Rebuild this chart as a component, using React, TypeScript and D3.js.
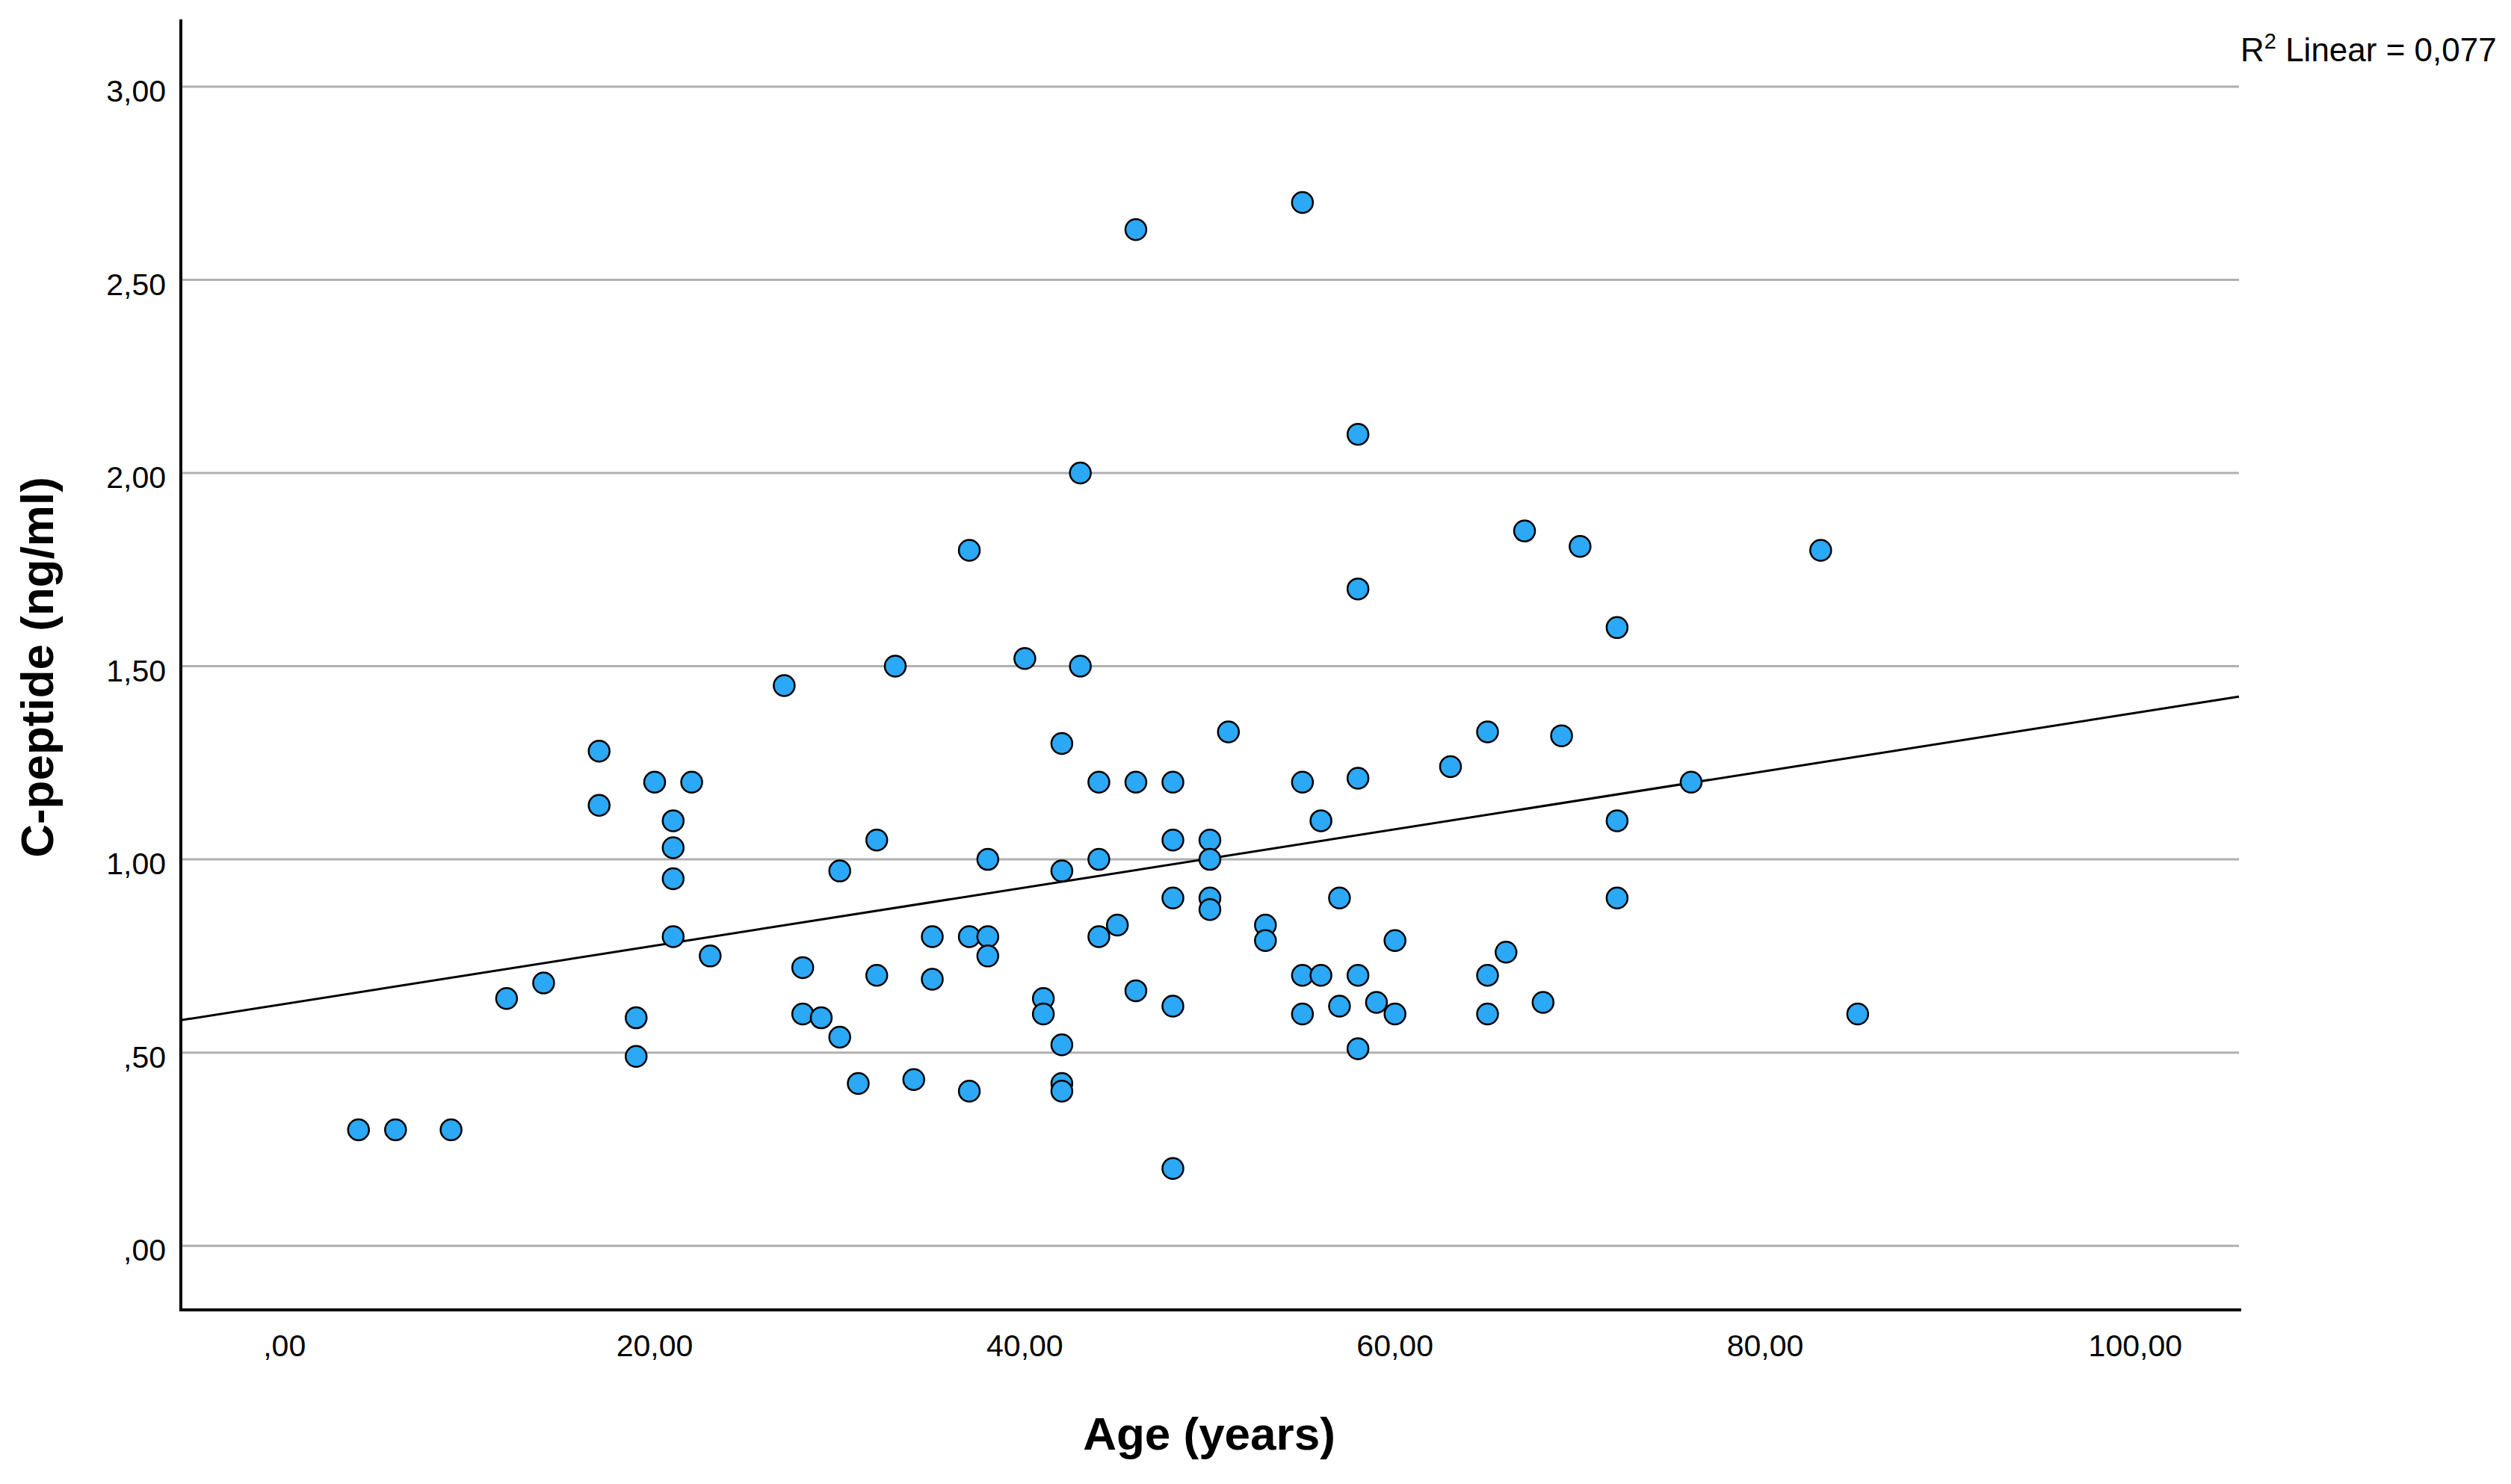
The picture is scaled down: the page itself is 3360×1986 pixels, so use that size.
import * as d3 from 'd3';

// age (years) and C-peptide (ng/ml), one entry per patient
const ages: number[] = [
  4, 6, 9, 12, 14, 17, 17, 19, 19, 20, 22, 21, 21, 21, 21, 23, 27, 28, 28, 29,
  30, 30, 31, 32, 32, 33, 34, 35, 35, 37, 37, 37, 38, 38, 38, 40, 41, 41, 42, 42,
  42, 42, 42, 43, 43, 44, 44, 44, 45, 46, 46, 46, 48, 48, 48, 48, 48, 50, 50, 50,
  50, 51, 53, 53, 55, 55, 55, 55, 56, 56, 57, 57, 58, 58, 58, 58, 58, 59, 60, 60,
  63, 65, 65, 65, 66, 67, 68, 69, 70, 72, 72, 72, 76, 83, 85,
];
const cPeptide: number[] = [
  0.30, 0.30, 0.30, 0.64, 0.68, 1.28, 1.14, 0.59, 0.49, 1.20, 1.20, 1.10, 1.03, 0.95, 0.80, 0.75, 1.45, 0.72, 0.60, 0.59,
  0.97, 0.54, 0.42, 1.05, 0.70, 1.50, 0.43, 0.80, 0.69, 1.80, 0.80, 0.40, 1.00, 0.80, 0.75, 1.52, 0.64, 0.60, 1.30, 0.97,
  0.52, 0.42, 0.40, 2.00, 1.50, 1.20, 1.00, 0.80, 0.83, 2.63, 1.20, 0.66, 1.20, 1.05, 0.90, 0.62, 0.20, 1.05, 1.00, 0.90,
  0.87, 1.33, 0.83, 0.79, 2.70, 1.20, 0.70, 0.60, 1.10, 0.70, 0.90, 0.62, 2.10, 1.70, 1.21, 0.70, 0.51, 0.63, 0.79, 0.60,
  1.24, 1.33, 0.70, 0.60, 0.76, 1.85, 0.63, 1.32, 1.81, 1.60, 1.10, 0.90, 1.20, 1.80, 0.60,
];

const xTicks = [0, 20, 40, 60, 80, 100];
const yTicks = [0, 0.5, 1, 1.5, 2, 2.5, 3];

// fit line as printed by SPSS
const fitIntercept = 0.626;
const fitSlope = 0.00753;
const rSquared = 0.077;

const W = 3360;
const H = 1986;
const plot = { left: 242, right: 2996, top: 26, bottom: 1753 };
const FONT = '"Liberation Sans", Arial, sans-serif';
const DOT_FILL = '#2ba8f6';

// SPSS style: 2 decimals, comma decimal mark, no leading zero
const fmt = (v: number) => d3.format('.2f')(v).replace('.', ',').replace(/^0,/, ',');

export default function App() {
  const x = d3.scaleLinear().domain([-5.6, 105.6]).range([plot.left, plot.right]);
  const y = d3.scaleLinear().domain([-0.166, 3.174]).range([plot.bottom, plot.top]);

  const xDom = x.domain();
  const fit = d3.line<number>()
    .x((d) => x(d))
    .y((d) => y(fitIntercept + fitSlope * d));

  const points = ages.map((a, i) => ({ age: a, cp: cPeptide[i] }));

  return (
    <svg width={W} height={H} style={{ position: 'absolute', left: 0, top: 0, background: '#fff' }}>
      <rect x={0} y={0} width={W} height={H} fill="#fff" />

      {/* horizontal grid */}
      <g>
        {yTicks.map((t) => (
          <line key={t} x1={plot.left} x2={plot.right} y1={y(t)} y2={y(t)} stroke="#b0b0b0" strokeWidth={3} />
        ))}
      </g>

      {/* y tick labels */}
      <g fontFamily={FONT} fontSize={41} fill="#000" textAnchor="end">
        {yTicks.map((t) => (
          <text key={t} x={plot.left - 20} y={y(t) + 20}>{fmt(t)}</text>
        ))}
      </g>

      {/* x tick labels */}
      <g fontFamily={FONT} fontSize={41} fill="#000" textAnchor="middle">
        {xTicks.map((t) => (
          <text key={t} x={x(t)} y={1815}>{fmt(t)}</text>
        ))}
      </g>

      {/* fit line */}
      <path d={fit(xDom) || ''} fill="none" stroke="#000" strokeWidth={3} />

      {/* points */}
      <g>
        {points.map((p, i) => (
          <circle key={i} cx={x(p.age)} cy={y(p.cp)} r={14} fill={DOT_FILL} stroke="#000" strokeWidth={2.5} />
        ))}
      </g>

      {/* axes */}
      <line x1={plot.left} x2={plot.left} y1={plot.top} y2={plot.bottom + 2} stroke="#000" strokeWidth={4} />
      <line x1={plot.left - 2} x2={plot.right + 3} y1={plot.bottom} y2={plot.bottom} stroke="#000" strokeWidth={4} />

      {/* titles */}
      <text x={1618} y={1940} fontFamily={FONT} fontSize={62} fontWeight="bold" textAnchor="middle">Age (years)</text>
      <text
        transform={`translate(71, 893) rotate(-90)`}
        fontFamily={FONT}
        fontSize={62}
        fontWeight="bold"
        textAnchor="middle"
      >
        C-peptide (ng/ml)
      </text>

      <text x={plot.right + 2} y={82} fontFamily={FONT} fontSize={44} fill="#000">
        R<tspan dy={-17} fontSize={29}>2</tspan>
        <tspan dy={17}> Linear = {d3.format('.3f')(rSquared).replace('.', ',')}</tspan>
      </text>
    </svg>
  );
}
